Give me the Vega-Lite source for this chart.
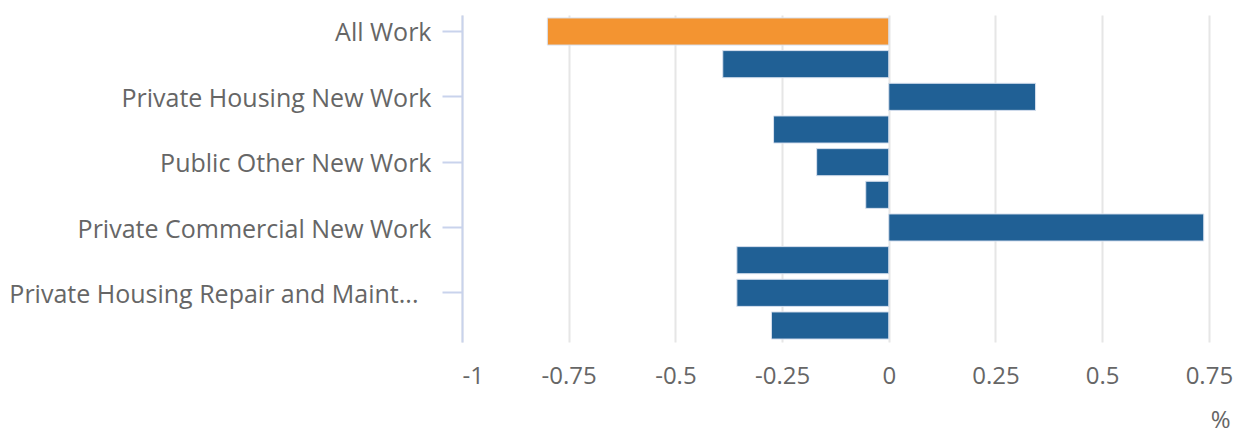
{
  "$schema": "https://vega.github.io/schema/vega-lite/v6.json",
  "autosize": "none",
  "width": 749,
  "height": 327,
  "padding": {"left": 462, "top": 15, "right": 29, "bottom": 92},
  "background": "white",
  "config": {
    "font": "Open Sans",
    "view": {"stroke": null}
  },
  "data": {
    "values": [
      {"category": "All Work", "value": -0.8, "group": "total"},
      {"category": "Public Housing New Work", "value": -0.389, "group": "sector"},
      {"category": "Private Housing New Work", "value": 0.344, "group": "sector"},
      {"category": "Infrastructure New Work", "value": -0.27, "group": "sector"},
      {"category": "Public Other New Work", "value": -0.169, "group": "sector"},
      {"category": "Private Industrial New Work", "value": -0.054, "group": "sector"},
      {"category": "Private Commercial New Work", "value": 0.738, "group": "sector"},
      {"category": "Public Housing Repair and Maintenance", "value": -0.356, "group": "sector"},
      {"category": "Private Housing Repair and Maintenance", "value": -0.356, "group": "sector"},
      {"category": "Non-Housing Repair and Maintenance", "value": -0.275, "group": "sector"}
    ]
  },
  "mark": {"type": "bar", "stroke": "#d8e1ef", "strokeWidth": 1},
  "encoding": {
    "y": {
      "field": "category",
      "type": "nominal",
      "sort": null,
      "scale": {"paddingInner": 0.17, "paddingOuter": 0.09},
      "axis": {
        "title": null,
        "values": ["All Work", "Private Housing New Work", "Public Other New Work", "Private Commercial New Work", "Private Housing Repair and Maintenance"],
        "labelExpr": "length(datum.label) > 32 ? slice(datum.label, 0, 32) + '...' : datum.label",
        "labelFontSize": 25,
        "labelColor": "#666666",
        "labelLimit": 470,
        "labelPadding": {"condition": {"test": "length(datum.label) > 32", "value": 24}, "value": 11},
        "labelOffset": 2,
        "tickSize": 20,
        "tickColor": "#c9d3ec",
        "tickWidth": 2,
        "domainColor": "#c9d3ec",
        "domainWidth": 2,
        "grid": false
      }
    },
    "x": {
      "field": "value",
      "type": "quantitative",
      "scale": {"domain": [-1, 0.755], "nice": false, "zero": false},
      "axis": {
        "title": "%",
        "values": [-1, -0.75, -0.5, -0.25, 0, 0.25, 0.5, 0.75],
        "labelExpr": "'' + datum.value",
        "labelFontSize": 24,
        "labelColor": "#666666",
        "labelPadding": 22,
        "ticks": false,
        "domain": false,
        "gridColor": "#e6e6e6",
        "gridWidth": 2,
        "titleFontSize": 24,
        "titleFontWeight": "normal",
        "titleColor": "#666666",
        "titleAnchor": "end",
        "titleAlign": "right",
        "titleX": 768,
        "titleY": 66
      }
    },
    "color": {
      "field": "group",
      "type": "nominal",
      "scale": {"domain": ["total", "sector"], "range": ["#f39431", "#206095"]},
      "legend": null
    }
  }
}
